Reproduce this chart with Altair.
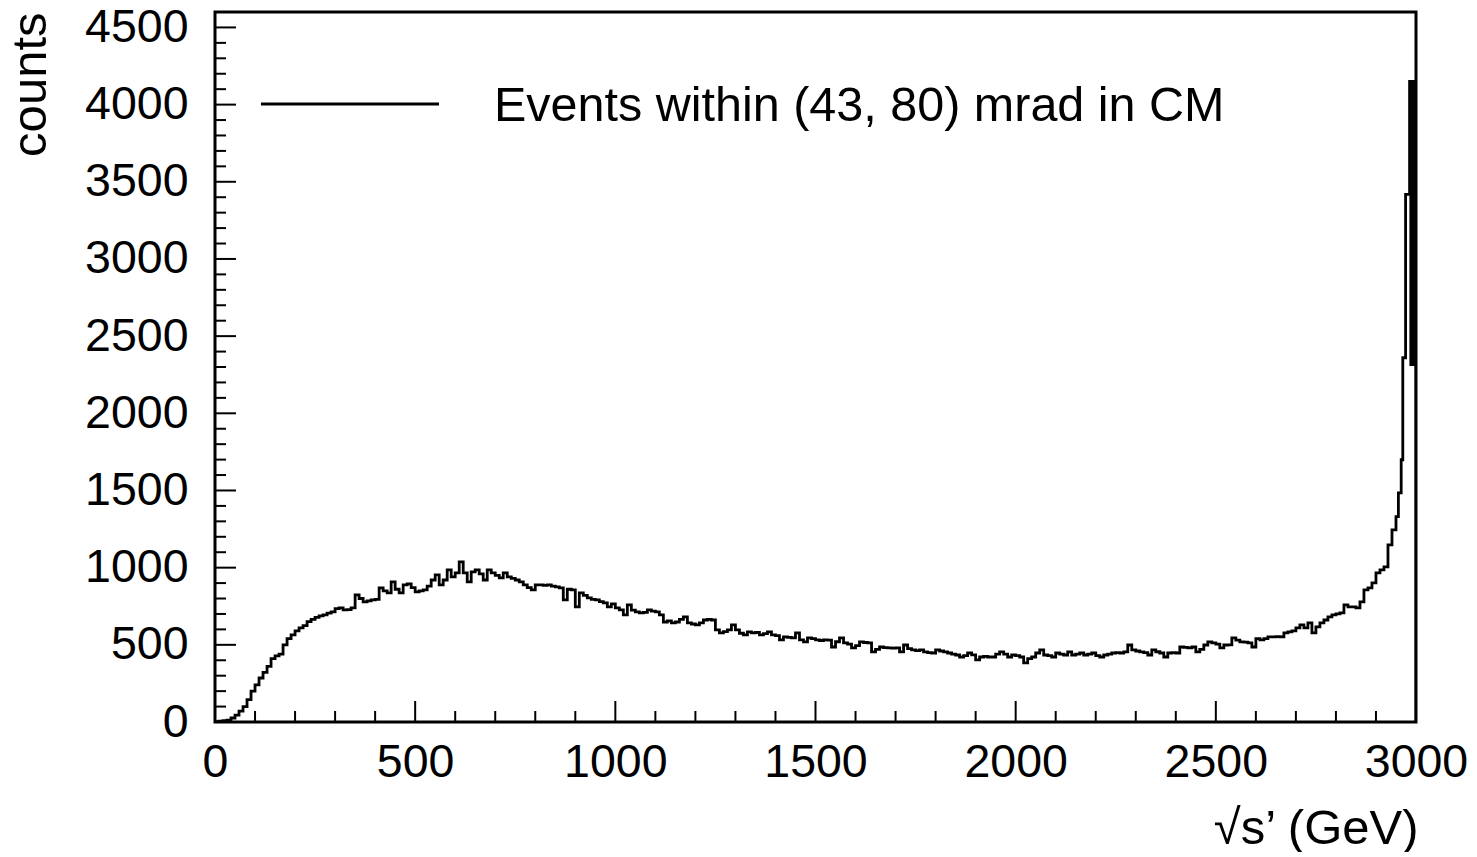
import altair as alt
import pandas as pd

# ---- data: histogram counts in 10 GeV bins (0 .. 2950 GeV) ----
bin_width = 10
counts = [
    2, 5, 8, 12, 26, 45, 70, 100, 145, 200,
    240, 285, 322, 360, 410, 428, 440, 500, 540, 565,
    590, 610, 625, 650, 665, 678, 688, 694, 705, 713,
    735, 739, 726, 728, 739, 823, 800, 778, 785, 791,
    795, 869, 850, 836, 908, 860, 836, 888, 895, 870,
    843, 850, 856, 880, 920, 953, 888, 920, 985, 940,
    966, 1037, 966, 908, 972, 985, 960, 920, 985, 966,
    950, 934, 966, 940, 930, 920, 908, 888, 870, 856,
    888, 888, 885, 888, 880, 875, 869, 791, 860, 856,
    746, 836, 820, 804, 795, 791, 780, 772, 746, 765,
    740, 726, 694, 759, 725, 713, 707, 710, 726, 718,
    713, 694, 648, 655, 642, 648, 665, 681, 642, 635,
    629, 642, 661, 665, 661, 597, 577, 585, 597, 629,
    597, 575, 564, 584, 577, 580, 564, 572, 584, 564,
    560, 532, 551, 548, 545, 577, 532, 519, 545, 540,
    532, 528, 532, 530, 486, 520, 545, 512, 505, 480,
    495, 519, 515, 512, 454, 470, 486, 482, 480, 478,
    480, 454, 499, 475, 467, 462, 467, 454, 450, 447,
    467, 460, 454, 447, 440, 434, 421, 430, 447, 435,
    402, 421, 425, 421, 421, 440, 454, 440, 421, 434,
    430, 421, 383, 410, 421, 447, 467, 434, 430, 421,
    447, 440, 434, 454, 434, 440, 447, 434, 440, 447,
    430, 421, 434, 440, 447, 450, 447, 454, 499, 467,
    460, 454, 450, 434, 467, 455, 447, 421, 447, 450,
    447, 486, 483, 480, 486, 454, 470, 499, 519, 512,
    505, 480, 499, 500, 545, 530, 519, 518, 512, 486,
    540, 532, 540, 551, 551, 553, 551, 577, 584, 590,
    610, 629, 610, 642, 577, 616, 642, 661, 681, 694,
    700, 707, 759, 746, 746, 739, 778, 856, 869, 901,
    966, 985, 1005, 1148, 1245,
]
# finer structure of the peak at the nominal energy
tail_edges = [2950, 2956, 2963, 2967, 2974, 2984, 2987, 2990, 2993, 2996, 3000]
tail_counts = [1330, 1485, 1699, 2360, 3418, 4150, 2315, 4150, 2315, 4150]

x_labels = [0, 500, 1000, 1500, 2000, 2500, 3000]
y_labels = [0, 500, 1000, 1500, 2000, 2500, 3000, 3500, 4000, 4500]
legend_text = "Events within (43, 80) mrad in CM"
x_title = "√s’ (GeV)"
y_title = "counts"

# ---- build tables ----
xs = [i * bin_width for i in range(len(counts))] + tail_edges
ys = counts + tail_counts + [0]
hist = pd.DataFrame({"x": xs, "y": ys, "o": list(range(len(xs)))})

y_major = pd.DataFrame({"y": y_labels})
y_minor = pd.DataFrame({"y": [v for v in range(100, 4601, 100) if v % 500 != 0]})
x_major = pd.DataFrame({"x": x_labels})
x_minor = pd.DataFrame({"x": [v for v in range(100, 3000, 100) if v % 500 != 0]})
legend_df = pd.DataFrame({"label": [legend_text]})

FONT = "Liberation Sans"
FS = 46.5
FT = 49
W, H = 1201, 710

xscale = alt.Scale(domain=[0, 3000], nice=False, zero=False)
yscale = alt.Scale(domain=[0, 4600], nice=False, zero=False)

x_axis = alt.Axis(
    values=x_labels, format="d", ticks=False, tickSize=0, domain=False, grid=False,
    labelFont=FONT, labelFontSize=FS, labelColor="black", labelPadding=54,
    labelBaseline="alphabetic", labelFlush=False, labelOverlap=False, labelBound=False,
    title=x_title, titleFont=FONT, titleFontSize=FT, titleFontWeight="normal",
    titleColor="black", titleAlign="right", titleBaseline="alphabetic",
    titleX=1203, titleY=121,
)
y_axis = alt.Axis(
    values=y_labels, format="d", ticks=False, tickSize=0, domain=False, grid=False,
    labelFont=FONT, labelFontSize=FS, labelColor="black", labelPadding=27,
    labelFlush=False, labelOverlap=False, labelBound=False,
    title=y_title, titleFont=FONT, titleFontSize=FT, titleFontWeight="normal",
    titleColor="black", titleAngle=270, titleAlign="right", titleBaseline="alphabetic",
    titleX=-170, titleY=0,
)

hist_layer = alt.Chart(hist).mark_line(
    interpolate="step-after", color="black", strokeWidth=2.8, clip=True
).encode(
    x=alt.X("x:Q", scale=xscale, axis=x_axis),
    y=alt.Y("y:Q", scale=yscale, axis=y_axis),
    order="o:Q",
)

def yticks(df, length):
    return alt.Chart(df).mark_rule(color="black", strokeWidth=2).encode(
        y=alt.Y("y:Q", scale=yscale, axis=y_axis),
        x=alt.value(0), x2=alt.value(length),
    )

def xticks(df, length):
    return alt.Chart(df).mark_rule(color="black", strokeWidth=2).encode(
        x=alt.X("x:Q", scale=xscale, axis=x_axis),
        y=alt.value(H), y2=alt.value(H - length),
    )

legend_line = alt.Chart(legend_df).mark_rule(color="black", strokeWidth=2.8).encode(
    x=alt.value(46), x2=alt.value(224), y=alt.value(92)
)
legend_label = alt.Chart(legend_df).mark_text(
    font=FONT, fontSize=48.5, color="black", align="left", baseline="alphabetic"
).encode(text="label:N", x=alt.value(279), y=alt.value(109))

chart = alt.layer(
    hist_layer,
    yticks(y_major, 21), yticks(y_minor, 11),
    xticks(x_major, 21), xticks(x_minor, 11),
    legend_line, legend_label,
).properties(
    width=W, height=H,
    autosize=alt.AutoSizeParams(type="none"),
    padding={"left": 207, "top": 4, "right": 53, "bottom": 130},
    background="white",
).configure_view(stroke="black", strokeWidth=3)

chart.save("out.html", embed_options={"renderer": "svg", "actions": False})
